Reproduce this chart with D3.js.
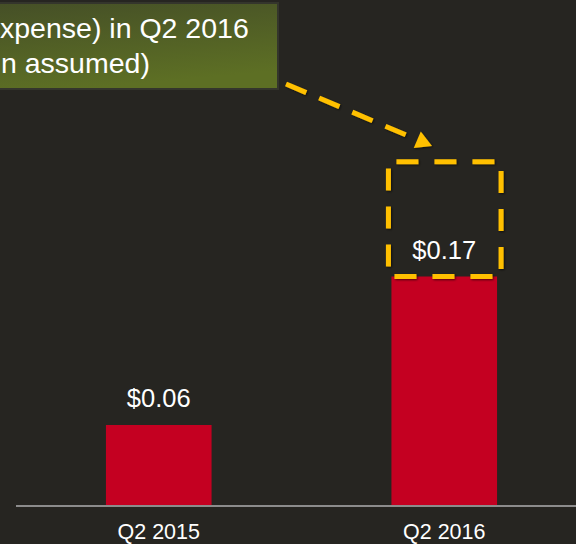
<!DOCTYPE html>
<html>
<head>
<meta charset="utf-8">
<script src="https://cdn.jsdelivr.net/npm/d3@7"></script>
<style>
  body { margin: 0; background: #262521; }
  svg { display: block; }
</style>
</head>
<body>
<svg id="chart"></svg>
<script>
// chart values
const categories = ['Q2 2015', 'Q2 2016'];
const eps = [0.06, 0.17];
const labels = ['$0.06', '$0.17'];
const assumedTop = 0.255;   // top of the dashed box on the Q2 2016 bar
const noteLines = ['xpense) in Q2 2016', 'n assumed)'];

const w = 576, h = 544;
const svg = d3.select('#chart').attr('width', w).attr('height', h);

svg.append('rect').attr('width', w).attr('height', h).attr('fill', '#262521');

const x = d3.scaleBand()
    .domain(categories)
    .range([16, 587])
    .paddingInner(0.63)
    .paddingOuter(0.315);

const y = d3.scaleLinear()
    .domain([0, 0.3])
    .range([506, 101]);

// bars
svg.selectAll('.bar')
    .data(eps)
    .join('rect')
    .attr('class', 'bar')
    .attr('x', (d, i) => x(categories[i]))
    .attr('y', d => y(d))
    .attr('width', x.bandwidth())
    .attr('height', d => y(0) - y(d))
    .attr('fill', '#c40021');

// baseline
svg.append('line')
    .attr('x1', 16).attr('x2', w)
    .attr('y1', y(0)).attr('y2', y(0))
    .attr('stroke', '#8c8c8c')
    .attr('stroke-width', 2);

// category labels
svg.selectAll('.cat')
    .data(categories)
    .join('text')
    .attr('class', 'cat')
    .attr('x', d => x(d) + x.bandwidth() / 2)
    .attr('y', 539)
    .attr('text-anchor', 'middle')
    .attr('fill', '#ffffff')
    .style('font', '21.5px "Liberation Sans", Arial, sans-serif')
    .text(d => d);

// value labels
svg.selectAll('.val')
    .data(eps)
    .join('text')
    .attr('class', 'val')
    .attr('x', (d, i) => x(categories[i]) + x.bandwidth() / 2)
    .attr('y', d => y(d) - 18)
    .attr('text-anchor', 'middle')
    .attr('fill', '#ffffff')
    .style('font', '25.5px "Liberation Sans", Arial, sans-serif')
    .text((d, i) => labels[i]);

// drop shadow for the yellow shapes
const defs = svg.append('defs');
const f = defs.append('filter').attr('id', 'shadow').attr('x', '-20%').attr('y', '-20%').attr('width', '140%').attr('height', '140%');
f.append('feDropShadow').attr('dx', 1).attr('dy', 1).attr('stdDeviation', 1).attr('flood-color', '#000').attr('flood-opacity', 0.6);

const grad = defs.append('linearGradient').attr('id', 'note').attr('x1', 0).attr('y1', 0).attr('x2', 0.3).attr('y2', 1);
grad.append('stop').attr('offset', '0%').attr('stop-color', '#454f27');
grad.append('stop').attr('offset', '100%').attr('stop-color', '#5d6f24');

// dashed box above Q2 2016 bar
const bx = x(categories[1]);
svg.append('rect')
    .attr('x', bx - 3)
    .attr('y', y(assumedTop))
    .attr('width', x.bandwidth() + 7)
    .attr('height', y(eps[1]) - y(assumedTop))
    .attr('fill', 'none')
    .attr('stroke', '#ffc000')
    .attr('stroke-width', 5)
    .attr('stroke-dasharray', '22,16')
    .attr('stroke-dashoffset', -8)
    .attr('filter', 'url(#shadow)');

// note box
svg.append('rect')
    .attr('x', -10).attr('y', 3)
    .attr('width', 288).attr('height', 86)
    .attr('fill', 'url(#note)')
    .attr('stroke', '#34352c')
    .attr('stroke-width', 2);

svg.selectAll('.note')
    .data(noteLines)
    .join('text')
    .attr('class', 'note')
    .attr('x', (d, i) => i == 0 ? 0 : 1)
    .attr('y', (d, i) => 38 + i * 35)
    .attr('fill', '#ffffff')
    .style('font', '28.5px "Liberation Sans", Arial, sans-serif')
    .text(d => d);

// dashed arrow
const x0 = 286, y0 = 84, x1 = 432, y1 = 146;
const ang = Math.atan2(y1 - y0, x1 - x0);
const headLen = 16;
svg.append('line')
    .attr('x1', x0).attr('y1', y0)
    .attr('x2', x1 - headLen * Math.cos(ang)).attr('y2', y1 - headLen * Math.sin(ang))
    .attr('stroke', '#ffc000')
    .attr('stroke-width', 5)
    .attr('stroke-dasharray', '22,14')
    .attr('filter', 'url(#shadow)');

const hw = 9;
const bxp = x1 - headLen * Math.cos(ang), byp = y1 - headLen * Math.sin(ang);
svg.append('path')
    .attr('d', `M${x1},${y1} L${bxp + hw * Math.sin(ang)},${byp - hw * Math.cos(ang)} L${bxp - hw * Math.sin(ang)},${byp + hw * Math.cos(ang)} Z`)
    .attr('fill', '#ffc000')
    .attr('filter', 'url(#shadow)');
</script>
</body>
</html>
